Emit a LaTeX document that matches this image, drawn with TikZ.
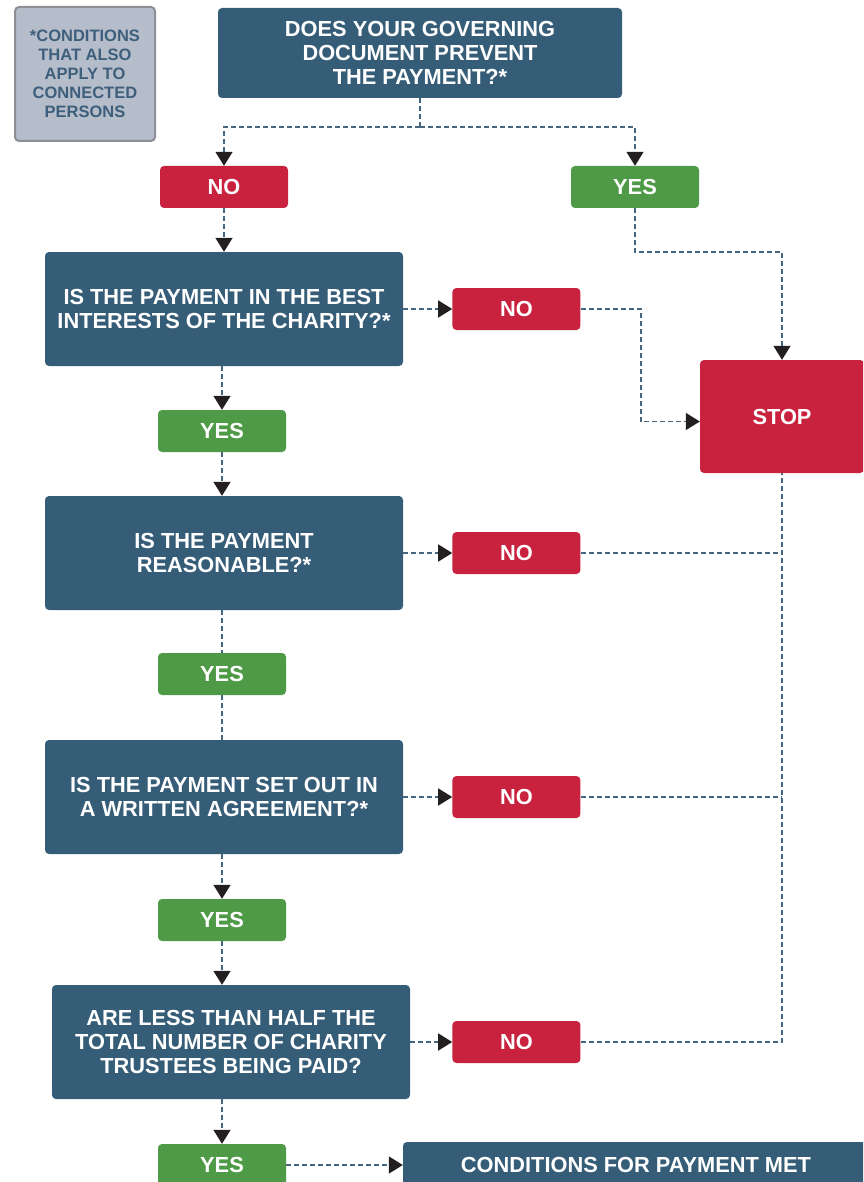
\documentclass[tikz,border=0pt]{standalone}
\usepackage{fontspec}
\setmainfont{Liberation Sans}
\usetikzlibrary{positioning,arrows.meta}

\definecolor{qblue}{HTML}{365D78}
\definecolor{nored}{HTML}{C8223F}
\definecolor{yesgreen}{HTML}{4E9A47}
\definecolor{notefill}{HTML}{B5BCCA}
\definecolor{noteedge}{HTML}{8C8F93}
\definecolor{notetext}{HTML}{3E5F7C}
\definecolor{flowline}{HTML}{46667F}
\definecolor{tipblack}{HTML}{231F20}

\begin{document}
\begin{tikzpicture}[x=1pt,y=-1pt]
  % Settings
  \tikzset{
    box/.style={fill=qblue, text=white, rounded corners=4pt, inner sep=0pt, align=center, font=\bfseries\fontsize{21.8}{24}\selectfont},
    question/.style={box, minimum width=358pt, minimum height=114pt},
    nobox/.style={box, fill=nored, minimum width=128pt, minimum height=42pt},
    yesbox/.style={box, fill=yesgreen, minimum width=128pt, minimum height=42pt},
    notebox/.style={draw=noteedge, line width=2pt, fill=notefill, text=notetext, rounded corners=4pt, minimum width=140pt, minimum height=134pt, inner sep=0pt, align=center, font=\bfseries\fontsize{16.5}{19}\selectfont},
    flow/.style={draw=flowline, line width=1.5pt, dash pattern=on 5pt off 3pt},
    arr/.style={flow, -{Triangle[length=14pt,width=17pt,color=tipblack]}},
  }

  \useasboundingbox (0,0) rectangle (863,1182);
  \clip (0,0) rectangle (863,1182);

  % Boxes
  \node[notebox] (note) at (85,74) {*CONDITIONS\\THAT ALSO\\APPLY TO\\CONNECTED\\PERSONS};
  \node[box, minimum width=404pt, minimum height=90pt] (gov) at (420,53) {DOES YOUR GOVERNING\\DOCUMENT PREVENT\\THE PAYMENT?*};
  \node[nobox] (no1) at (224,187) {NO};
  \node[yesbox] (yes1) at (635,187) {YES};

  \node[question] (q1) at (224,309) {IS THE PAYMENT IN THE BEST\\INTERESTS OF THE CHARITY?*};
  \node[nobox, right=49pt of q1] (no2) {NO};
  \node[box, fill=nored, minimum width=164pt, minimum height=113pt] (stop) at (782,416.5) {STOP};
  \node[yesbox] (yes2) at (222,431) {YES};

  \node[question] (q2) at (224,553) {IS THE PAYMENT\\REASONABLE?*};
  \node[nobox, right=49pt of q2] (no3) {NO};
  \node[yesbox] (yes3) at (222,674) {YES};

  \node[question] (q3) at (224,797) {IS THE PAYMENT SET OUT IN\\A WRITTEN AGREEMENT?*};
  \node[nobox, right=49pt of q3] (no4) {NO};
  \node[yesbox] (yes4) at (222,920) {YES};

  \node[question] (q4) at (231,1042) {ARE LESS THAN HALF THE\\TOTAL NUMBER OF CHARITY\\TRUSTEES BEING PAID?};
  \node[nobox, right=42pt of q4] (no5) {NO};
  \node[yesbox] (yes5) at (222,1165) {YES};
  \node[box, minimum width=466pt, minimum height=46pt] (met) at (636,1165) {CONDITIONS FOR PAYMENT MET};

  % Arrows
  \coordinate (split) at (420,127);
  \coordinate (yesbend) at (782,252);
  \coordinate (nobend) at (641,309);
  \draw[flow] (gov.south) -- (split);
  \draw[arr] (split) -| (no1.north);
  \draw[arr] (split) -| (yes1.north);
  \draw[arr] (yes1.south) |- (yesbend) -- (stop.north);
  \draw[arr] (no1.south) -- (no1.south |- q1.north);

  \draw[arr] (q1) -- (no2);
  \draw[arr] (no2.east) -- (nobend) |- ([yshift=-5pt]stop.west);
  \draw[arr] (yes2.north |- q1.south) -- (yes2.north);
  \draw[arr] (yes2.south) -- (yes2.south |- q2.north);

  \draw[arr] (q2) -- (no3);
  \draw[flow] (yes3.north |- q2.south) -- (yes3.north);
  \draw[flow] (yes3.south) -- (yes3.south |- q3.north);

  \draw[arr] (q3) -- (no4);
  \draw[arr] (yes4.north |- q3.south) -- (yes4.north);
  \draw[arr] (yes4.south) -- (yes4.south |- q4.north);

  \draw[arr] (q4) -- (no5);
  \draw[arr] (yes5.north |- q4.south) -- (yes5.north);
  \draw[arr] (yes5) -- (met);

  % Back to STOP
  \draw[flow] (no5.east) -| (stop.south);
  \draw[flow] (no3.east) -- (no3.east -| stop.south);
  \draw[flow] (no4.east) -- (no4.east -| stop.south);

\end{tikzpicture}
\end{document}
